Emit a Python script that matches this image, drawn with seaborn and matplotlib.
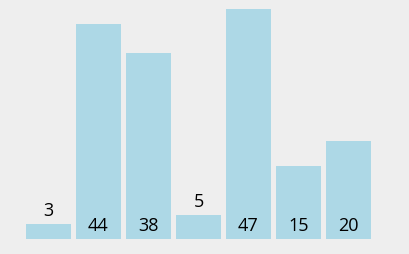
import matplotlib
matplotlib.use("Agg")
import matplotlib.pyplot as plt
import seaborn as sns
import pandas as pd

categories = ["A", "B", "C", "D", "E", "F", "G"]
values = [3, 44, 38, 5, 47, 15, 20]

sns.set_theme(style="white")
plt.rcParams['font.family'] = ['Open Sans', 'DejaVu Sans']

df = pd.DataFrame({"cat": categories, "val": values})

fig = plt.figure(figsize=(4.10, 2.54), dpi=100, facecolor="#EEEEEE")
ax = fig.add_axes([0, 0, 1, 1])
ax.set_facecolor("#EEEEEE")
sns.barplot(data=df, x="cat", y="val", color="#ADD8E6", saturation=1, width=0.9,
            linewidth=0, edgecolor="none", ax=ax)

scale = 239 / 48.84
ax.set_xlim(-0.97, 7.23)
ax.set_ylim(-15 / scale, 48.84)
for s in ax.spines.values():
    s.set_visible(False)
ax.set_xticks([])
ax.set_yticks([])
ax.set_xlabel("")
ax.set_ylabel("")

for i, v in enumerate(values):
    base = v if v < 10 else 0
    ax.annotate(str(v), (i, base), xytext=(0, 8), textcoords="offset pixels",
                ha="center", va="baseline", fontsize=13, color="black")

fig.savefig("out.png", dpi=100, facecolor=fig.get_facecolor())
